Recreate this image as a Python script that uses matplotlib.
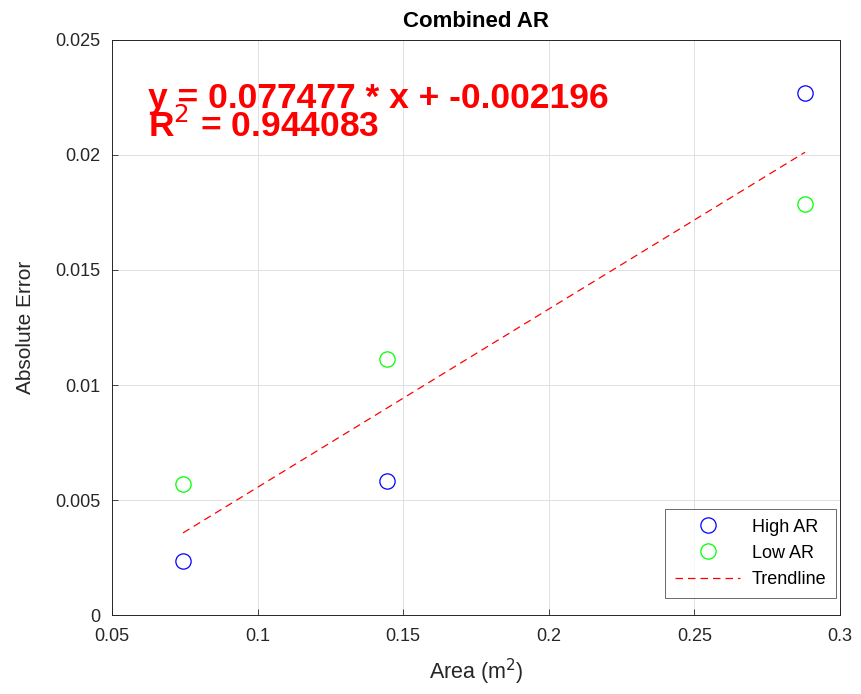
import matplotlib.pyplot as plt

plt.rcParams['font.family'] = ['Liberation Sans', 'DejaVu Sans']

area = [0.0744, 0.1444, 0.2880]
high_ar = [0.00235, 0.00582, 0.02268]
low_ar = [0.00570, 0.01115, 0.01785]

trend_x = [0.0744, 0.2880]
trend_y = [0.00357, 0.02012]

eq_text = 'y = 0.077477 * x + -0.002196'
r2_text = 'R$^2$ = 0.944083'

dark = '#262626'

fig = plt.figure(figsize=(8.62, 6.94), dpi=100)
ax = fig.add_axes([0.1299, 0.1138, 0.8446, 0.8286])

ax.plot(area, high_ar, 'o', mfc='none', mec='blue', ms=11, mew=0.9, label='High AR')
ax.plot(area, low_ar, 'o', mfc='none', mec='#00ff00', ms=11, mew=0.9, label='Low AR')
ax.plot(trend_x, trend_y, '--', color='red', linewidth=0.9, dashes=(6, 4), label='Trendline')

ax.text(0.0625, 0.02204, eq_text, color='red', fontsize=25.5, fontweight='bold', va='baseline')
ax.text(0.0625, 0.02080, r2_text, color='red', fontsize=25.5, fontweight='bold', va='baseline')

ax.set_xlim(0.05, 0.3)
ax.set_ylim(0, 0.025)
ax.set_xticks([0.05, 0.1, 0.15, 0.2, 0.25, 0.3])
ax.set_xticklabels(['0.05', '0.1', '0.15', '0.2', '0.25', '0.3'])
ax.set_yticks([0, 0.005, 0.01, 0.015, 0.02, 0.025])
ax.set_yticklabels(['0', '0.005', '0.01', '0.015', '0.02', '0.025'])

ax.grid(True, color='#dcdcdc', linewidth=0.6)
ax.set_axisbelow(True)
ax.tick_params(direction='in', length=4, labelsize=13, colors=dark, width=0.6)
ax.tick_params(axis='x', pad=9)
ax.tick_params(axis='y', pad=8)
for s in ax.spines.values():
    s.set_color(dark)
    s.set_linewidth(0.7)

ax.set_xlabel('Area (m$^2$)', fontsize=15.5, color=dark, labelpad=9)
ax.set_ylabel('Absolute Error', fontsize=15, color=dark, labelpad=15)
ax.set_title('Combined AR', fontsize=16, fontweight='bold', color='black', pad=9)

leg = ax.legend(loc='lower right', bbox_to_anchor=(0.995, 0.03), fontsize=13,
                frameon=True, fancybox=False, edgecolor=dark, borderaxespad=0.0,
                handlelength=3.6, labelspacing=0.5, handletextpad=0.65, borderpad=0.55)
leg.get_frame().set_linewidth(0.6)

plt.savefig('out.png', dpi=100)
plt.close()
